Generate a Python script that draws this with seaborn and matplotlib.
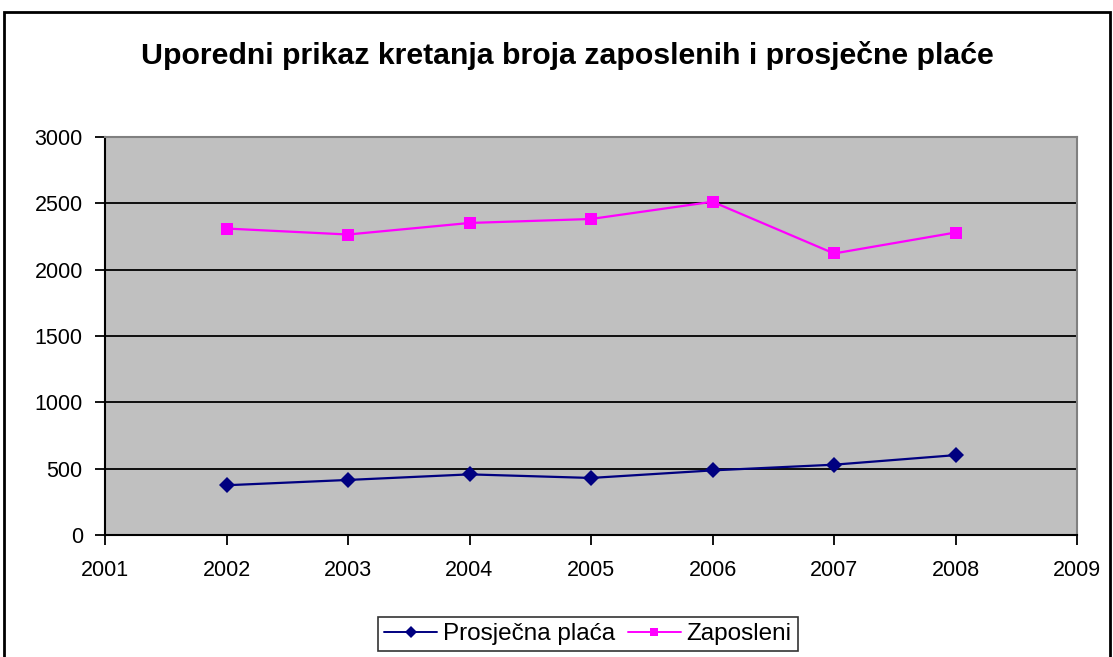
import pandas as pd
import matplotlib.pyplot as plt
import seaborn as sns
from matplotlib.patches import Rectangle


godine = [2002, 2003, 2004, 2005, 2006, 2007, 2008]
prosjecna_placa = [375, 415, 457, 430, 487, 530, 602]
zaposleni = [2310, 2265, 2352, 2382, 2512, 2122, 2280]

data = pd.DataFrame({'godina': godine,
                     'Prosječna plaća': prosjecna_placa,
                     'Zaposleni': zaposleni})
melted = pd.melt(data, id_vars=['godina'], value_vars=['Prosječna plaća', 'Zaposleni'],
                 var_name='serija', value_name='vrijednost')

sns.set_style("white")
plt.rcParams['font.family'] = ['Liberation Sans', 'DejaVu Sans']
plt.rcParams['text.color'] = 'black'
plt.rcParams['xtick.color'] = 'black'
plt.rcParams['ytick.color'] = 'black'

fig = plt.figure(figsize=(11.13, 6.57), dpi=100)
ax = fig.add_axes([105 / 1113, 1 - 535 / 657, (1077 - 105) / 1113, (535 - 137) / 657])
ax.set_facecolor('#C0C0C0')

boje = {'Prosječna plaća': '#000080', 'Zaposleni': '#FF00FF'}
markeri = {'Prosječna plaća': 'D', 'Zaposleni': 's'}
sns.lineplot(data=melted, x='godina', y='vrijednost', hue='serija', style='serija',
             palette=boje, markers=markeri, dashes=False, linewidth=1.6,
             markersize=8, markeredgewidth=0, ax=ax, legend=False)

ax.set_xlim(2001, 2009)
ax.set_ylim(0, 3000)
ax.set_xticks(range(2001, 2010))
ax.set_yticks(range(0, 3001, 500))
ax.grid(axis='y', color='black', linewidth=1.3)
ax.set_axisbelow(True)
ax.set_xlabel('')
ax.set_ylabel('')
ax.tick_params(axis='both', direction='out', length=7, width=1.3, color='black',
               labelsize=15.5, labelcolor='black', pad=9, left=True, bottom=True)
ax.tick_params(axis='x', pad=11)
for s in ['left', 'bottom']:
    ax.spines[s].set_color('black')
    ax.spines[s].set_linewidth(1.5)
for s in ['top', 'right']:
    ax.spines[s].set_color('#808080')
    ax.spines[s].set_linewidth(1.5)

fig.text(567 / 1113, 1 - 56 / 657, 'Uporedni prikaz kretanja broja zaposlenih i prosječne plaće',
         ha='center', va='center', fontsize=21.8, fontweight='bold', color='black')

handles = [plt.Line2D([], [], color=boje[k], marker=markeri[k], markersize=6,
                      markeredgewidth=0, linewidth=1.4) for k in boje]
leg = fig.legend(handles, list(boje), loc='center', bbox_to_anchor=(588 / 1113, 1 - 634 / 657),
                 ncol=2, frameon=True, fancybox=False, fontsize=17.5, handlelength=2.15,
                 handletextpad=0.25, columnspacing=0.55, borderpad=0.25, borderaxespad=0,
                 labelcolor='black')
leg.get_frame().set_edgecolor('black')
leg.get_frame().set_linewidth(1.2)

fig.patches.append(Rectangle((4 / 1113, -0.02), (1110 - 4) / 1113, 1.02 - 12 / 657,
                             transform=fig.transFigure, fill=False, edgecolor='black',
                             linewidth=2))

fig.savefig('out.png', dpi=100)
